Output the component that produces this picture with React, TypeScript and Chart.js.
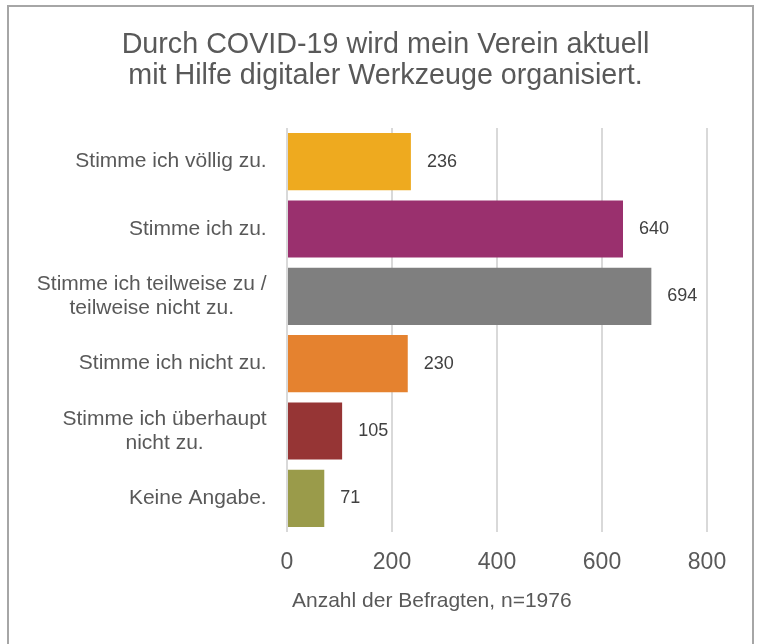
import { useEffect, useRef } from "react";
import { Chart, registerables } from "chart.js";

Chart.register(...registerables);

const categories: string[][] = [
  ["Stimme ich völlig zu."],
  ["Stimme ich zu."],
  ["Stimme ich teilweise zu /", "teilweise nicht zu."],
  ["Stimme ich nicht zu."],
  ["Stimme ich überhaupt", "nicht zu."],
  ["Keine Angabe."],
];
const counts = [236, 640, 694, 230, 105, 71];
const barColors = ["#EEAA1F", "#9A306E", "#7F7F7F", "#E5822F", "#963535", "#9A9B4A"];
const xTickValues = [0, 200, 400, 600, 800];
const titleLines = ["Durch COVID-19 wird mein Verein aktuell", "mit Hilfe digitaler Werkzeuge organisiert."];
const axisTitle = "Anzahl der Befragten, n=1976";

const FONT = "'Liberation Sans', Arial, sans-serif";

export default function App() {
  const ref = useRef<HTMLCanvasElement | null>(null);

  useEffect(() => {
    if (!ref.current) return;

    const categoryLabelPlugin = {
      id: "categoryLabelPlugin",
      afterDraw(chart: any) {
        const { ctx, chartArea } = chart;
        const yScale = chart.scales.y;
        ctx.save();
        ctx.font = `21px ${FONT}`;
        ctx.fillStyle = "#595959";
        ctx.textAlign = "center";
        ctx.textBaseline = "middle";
        const lh = 24.5;
        categories.forEach((lines, i) => {
          const yc = yScale.getPixelForTick(i);
          const w = Math.max(...lines.map((l) => ctx.measureText(l).width));
          const cx = chartArea.left - 20.3 - w / 2;
          const y0 = yc - ((lines.length - 1) * lh) / 2;
          lines.forEach((l, j) => ctx.fillText(l, cx, y0 + j * lh));
        });
        ctx.restore();
      },
    };

    const dataLabelPlugin = {
      id: "dataLabelPlugin",
      afterDatasetsDraw(chart: any) {
        const { ctx } = chart;
        const meta = chart.getDatasetMeta(0);
        ctx.save();
        ctx.font = `18px ${FONT}`;
        ctx.fillStyle = "#404040";
        ctx.textAlign = "left";
        ctx.textBaseline = "middle";
        meta.data.forEach((el: any, i: number) => {
          ctx.fillText(String(counts[i]), el.x + 16, el.y);
        });
        ctx.restore();
      },
    };

    const axisTitlePlugin = {
      id: "axisTitlePlugin",
      afterDraw(chart: any) {
        const { ctx, chartArea } = chart;
        ctx.save();
        ctx.font = `21px ${FONT}`;
        ctx.fillStyle = "#595959";
        ctx.textAlign = "left";
        ctx.textBaseline = "middle";
        ctx.fillText(axisTitle, chartArea.left + 5, chartArea.bottom + 69);
        ctx.restore();
      },
    };

    const chart = new Chart(ref.current, {
      type: "bar",
      data: {
        labels: categories.map((c) => c.join(" ")),
        datasets: [
          {
            data: counts,
            backgroundColor: barColors,
            borderWidth: 0,
            barPercentage: 0.85,
            categoryPercentage: 1,
          },
        ],
      },
      options: {
        indexAxis: "y",
        animation: false,
        responsive: false,
        maintainAspectRatio: false,
        layout: { padding: { top: 0, left: 55, right: 45, bottom: 0 } },
        plugins: {
          legend: { display: false },
          tooltip: { enabled: false },
          title: {
            display: true,
            text: titleLines,
            color: "#595959",
            font: { family: FONT, size: 28.7, weight: "normal", lineHeight: 1.08 },
            padding: { top: 23, bottom: 36 },
          },
        },
        scales: {
          x: {
            min: 0,
            max: 800,
            afterBuildTicks(scale: any) {
              scale.ticks = xTickValues.map((v) => ({ value: v }));
            },
            afterFit(scale: any) {
              scale.height = 115;
            },
            ticks: {
              color: "#595959",
              font: { family: FONT, size: 23 },
              padding: 17,
            },
            grid: { color: "#d9d9d9", lineWidth: 2, drawTicks: false },
            border: { display: false },
          },
          y: {
            afterFit(scale: any) {
              scale.width = 223;
            },
            ticks: { display: false },
            grid: { display: false, drawTicks: false },
            border: { display: false },
          },
        },
      },
      plugins: [categoryLabelPlugin, dataLabelPlugin, axisTitlePlugin],
    } as any);

    return () => chart.destroy();
  }, []);

  return (
    <div
      style={{
        position: "absolute",
        left: 7,
        top: 5,
        width: 743,
        height: 640,
        border: "2px solid #a6a6a6",
        background: "#fff",
      }}
    >
      <canvas ref={ref} width={743} height={640} style={{ display: "block", width: 743, height: 640 }} />
    </div>
  );
}
